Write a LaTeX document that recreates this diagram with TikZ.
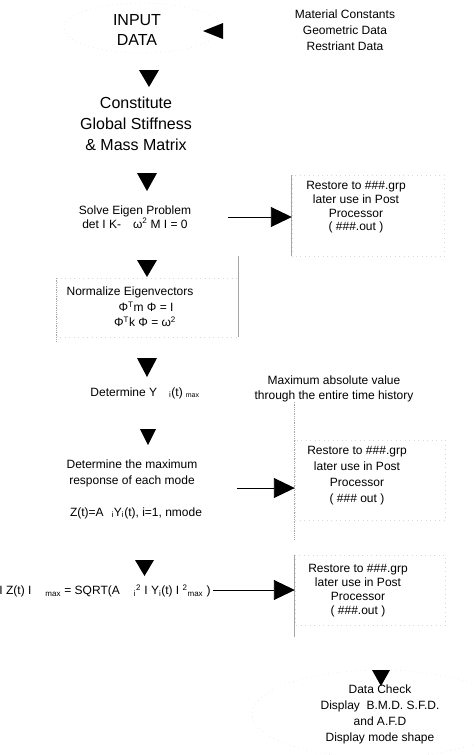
\documentclass[tikz,border=0pt]{standalone}
\usepackage{fontspec}
\setmainfont{Liberation Sans}
\usetikzlibrary{arrows.meta}
\tikzset{
  big/.style={font=\fontsize{16}{21}\selectfont, align=center, inner sep=0pt},
  txt/.style={font=\fontsize{12}{16}\selectfont, align=center, inner sep=0pt},
  tri/.style={fill=black},
  conn/.style={line width=0.9pt, -{Triangle[length=21pt,width=20pt]}},
  faint/.style={draw=gray!30, loosely dotted, line width=0.5pt},
  edgeline/.style={draw=gray!70, line width=0.9pt},
  dotline/.style={draw=gray!70, densely dotted, line width=0.8pt},
  boxn/.style={draw=none, inner sep=0pt}
}
\begin{document}
\begin{tikzpicture}[x=1pt,y=-1pt]
\useasboundingbox (0,0) rectangle (474,755);

% faint outlines
\draw[faint] (142,28) ellipse [x radius=78, y radius=25];
\draw[faint] (380,714) ellipse [x radius=128, y radius=44];
\node[boxn, minimum width=152pt, minimum height=81pt] (b1) at (368,215.5) {};
\node[boxn, minimum width=181pt, minimum height=59pt] (b2) at (147.5,307.5) {};
\node[boxn, minimum width=150pt, minimum height=80pt] (b3) at (370,480) {};
\node[boxn, minimum width=150pt, minimum height=70pt] (b4) at (370,590) {};
\draw[faint] (b1.north west) rectangle (b1.south east);
\draw[faint] (b2.north west) rectangle (b2.south east);
\draw[faint] (b3.north west) rectangle (b3.south east);
\draw[faint] (b4.north west) rectangle (b4.south east);
\draw[edgeline] (b1.north west) -- (b1.south west);
\draw[dotline] (b2.north west) -- ([yshift=-4pt]b2.south west);
\draw[edgeline] ([yshift=22pt]b2.north east) -- (b2.south east);
\draw[dotline] ([yshift=38pt]b3.north west) -- ([yshift=-20pt]b3.south west);
\draw[edgeline] (b4.north west) -- ([yshift=-12pt]b4.south west);

% texts
\node[big, font=\fontsize{16}{20}\selectfont] (input) at (137,30) {INPUT\\DATA};
\node[txt] (mat) at (345,30) {Material Constants\\Geometric Data\\Restriant Data};
\node[big] (const) at (136,124) {Constitute\\Global Stiffness\\\& Mass Matrix};
\node[txt, font=\fontsize{12}{14}\selectfont] (solve) at (135,217)
  {Solve Eigen Problem\\det I K-\hspace{12pt}ω\textsuperscript{2} M I = 0};
\node[txt, font=\fontsize{12}{13.7}\selectfont] (r1) at (356,207.5)
  {Restore to \#\#\#.grp\\later use in Post\\Processor\\( \#\#\#.out )};
\node[txt] (norm) at (130,292) {Normalize Eigenvectors};
\node[txt] (phi1) at (146,307) {Φ\textsuperscript{T}m Φ = I};
\node[txt] (phi2) at (145,322) {Φ\textsuperscript{T}k Φ = ω\textsuperscript{2}};
\node[txt] (dety) at (145,393) {Determine Y\hspace{12pt}\textsubscript{i}(t)\hspace{3pt}\textsubscript{\scriptsize max}};
\node[txt, font=\fontsize{12}{15}\selectfont] (maxabs) at (334,389)
  {Maximum absolute value\\through the entire time history};
\node[txt] (detmax) at (132,473) {Determine the maximum\\response of each mode};
\node[txt] (zt) at (136,513) {Z(t)=A\hspace{8pt}\textsubscript{i}Y\textsubscript{i}(t), i=1, nmode};
\node[txt] (r2) at (357,476)
  {Restore to \#\#\#.grp\\later use in Post\\Processor\\( \#\#\# out )};
\node[txt] (sqrt) at (105,591)
  {I Z(t) I\hspace{14pt}\textsubscript{max} = SQRT(A\hspace{14pt}\textsubscript{i}\textsuperscript{2} I Y\textsubscript{i}(t) I \textsuperscript{2}\textsubscript{max} )};
\node[txt, font=\fontsize{12}{14}\selectfont] (r3) at (358,591)
  {Restore to \#\#\#.grp\\later use in Post\\Processor\\( \#\#\#.out )};
\node[txt] (check) at (380,714)
  {Data Check\\Display\ \ B.M.D. S.F.D.\\and A.F.D\\Display mode shape};

% connectors
\coordinate (s1) at (228,217);
\coordinate (s2) at (237,488);
\coordinate (s3) at (213,590);
\draw[conn] (s1) -- (b1.west |- s1);
\draw[conn] (s2) -- (b3.west |- s2);
\draw[conn] (s3) -- (b4.west |- s3);

% free arrowheads
\fill[tri] (203,31) -- (223,23) -- (223,39) -- cycle;
\fill[tri] (139,70) -- (159,70) -- (149,87) -- cycle;
\fill[tri] (137,173) -- (157,173) -- (147,191) -- cycle;
\fill[tri] (137,260) -- (157,260) -- (147,277) -- cycle;
\fill[tri] (137,358) -- (157,358) -- (147,377) -- cycle;
\fill[tri] (140,429) -- (156,429) -- (148,445) -- cycle;
\fill[tri] (135,560) -- (154,560) -- (144.5,576) -- cycle;
\fill[tri] (372,670) -- (390,670) -- (381,686) -- cycle;
\end{tikzpicture}
\end{document}
